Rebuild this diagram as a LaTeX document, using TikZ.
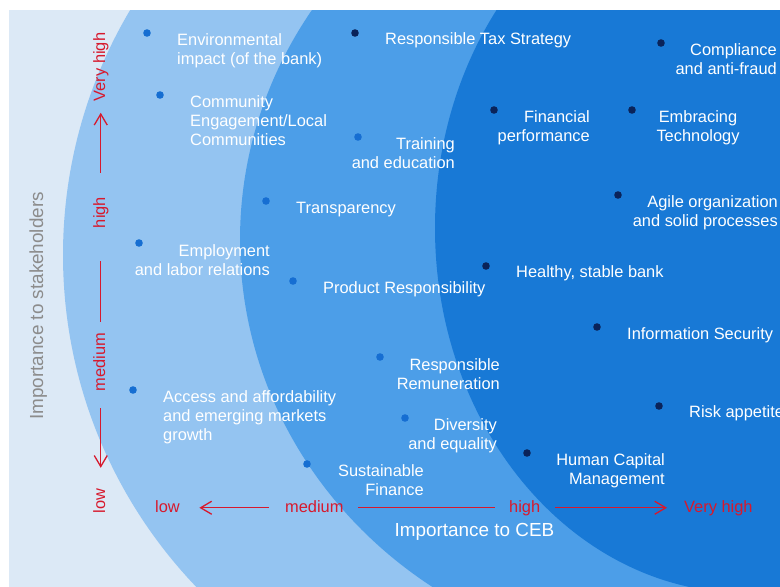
\documentclass[tikz,border=0pt]{standalone}
\usepackage{fontspec}
\setmainfont{Liberation Sans}
\usetikzlibrary{arrows.meta}
\definecolor{pale}{RGB}{220,233,246}
\definecolor{ringA}{RGB}{148,196,241}
\definecolor{ringB}{RGB}{76,158,232}
\definecolor{ringC}{RGB}{24,121,214}
\definecolor{dotblue}{RGB}{22,110,210}
\definecolor{dotnavy}{RGB}{10,35,90}
\definecolor{axisred}{RGB}{215,25,45}
\definecolor{axisgray}{RGB}{140,140,140}
\begin{document}
\begin{tikzpicture}[x=1pt,y=-1pt,
  lbl/.style={text=white, inner sep=0pt, font=\fontsize{16.4}{19}\selectfont},
  axl/.style={text=axisred, inner sep=0pt, text height=12pt, text depth=3.5pt, font=\fontsize{16.4}{19}\selectfont},
  vaxl/.style={axl, rotate=90, anchor=base},
  big/.style={inner sep=0pt, font=\fontsize{18.9}{22}\selectfont},
  dotb/.style={circle, fill=dotblue, inner sep=0pt, minimum size=7.6pt},
  dotn/.style={circle, fill=dotnavy, inner sep=0pt, minimum size=7.6pt},
  axline/.style={draw=axisred, line width=1.3pt},
  arr/.style={-{Straight Barb[length=11pt,width=13pt]}}]
\useasboundingbox (0,0) rectangle (780,587);
\fill[white] (0,0) rectangle (780,587);
\fill[pale] (9,10) rectangle (780,587);
% rings
\begin{scope}
\clip (9,10) rectangle (780,587);
\fill[ringA] (543,255) ellipse [x radius=480, y radius=480];
\fill[ringB] (681,240) ellipse [x radius=441, y radius=420];
\fill[ringC] (746,228) ellipse [x radius=311, y radius=365];
\end{scope}
% dots
\node[dotb] (d-env) at (147,33) {};
\node[dotb] (d-comm) at (160,95) {};
\node[dotn] (d-tax) at (355,33) {};
\node[dotb] (d-train) at (358,137) {};
\node[dotn] (d-compl) at (661,43) {};
\node[dotn] (d-fin) at (494,110) {};
\node[dotn] (d-embr) at (632,110) {};
\node[dotn] (d-agile) at (618,195) {};
\node[dotb] (d-transp) at (266,201) {};
\node[dotb] (d-empl) at (139,243) {};
\node[dotn] (d-health) at (486,266) {};
\node[dotb] (d-prod) at (293,281) {};
\node[dotn] (d-infosec) at (597,327) {};
\node[dotb] (d-remun) at (380,357) {};
\node[dotb] (d-access) at (133,390) {};
\node[dotn] (d-risk) at (659,406) {};
\node[dotb] (d-divers) at (405,418) {};
\node[dotn] (d-human) at (527,453) {};
\node[dotb] (d-sust) at (307,464) {};
% labels (base anchor of a multi-line node = baseline of its last line)
\node[lbl, anchor=base west, align=left] (t-env) at (177,64) {Environmental\\impact (of the bank)};
\node[lbl, anchor=base west, align=left] (t-comm) at (190,145) {Community\\Engagement/Local\\Communities};
\node[lbl, anchor=base west] (t-tax) at (385,44) {Responsible Tax Strategy};
\node[lbl, anchor=base east, align=right] (t-train) at (455,168) {Training\\and education};
\node[lbl, anchor=base east, align=right] (t-compl) at (777,74) {Compliance\\and anti-fraud};
\node[lbl, anchor=base east, align=right] (t-fin) at (590,141) {Financial\\performance};
\node[lbl, anchor=base, align=center] (t-embr) at (698,141) {Embracing\\Technology};
\node[lbl, anchor=base east, align=right] (t-agile) at (778,226) {Agile organization\\and solid processes};
\node[lbl, anchor=base west] (t-transp) at (296,213) {Transparency};
\node[lbl, anchor=base east, align=right] (t-empl) at (270,275) {Employment\\and labor relations};
\node[lbl, anchor=base west] (t-health) at (516,277) {Healthy, stable bank};
\node[lbl, anchor=base west] (t-prod) at (323,293) {Product Responsibility};
\node[lbl, anchor=base west] (t-infosec) at (627,339) {Information Security};
\node[lbl, anchor=base east, align=right] (t-remun) at (500,389) {Responsible\\Remuneration};
\node[lbl, anchor=base west, align=left] (t-access) at (163,440) {Access and affordability\\and emerging markets\\growth};
\node[lbl, anchor=base west] (t-risk) at (689,417) {Risk appetite};
\node[lbl, anchor=base east, align=right] (t-divers) at (497,449) {Diversity\\and equality};
\node[lbl, anchor=base east, align=right] (t-human) at (665,484) {Human Capital\\Management};
\node[lbl, anchor=base east, align=right] (t-sust) at (424,495) {Sustainable\\Finance};
% horizontal axis
\node[axl, anchor=base west] (hlow) at (155,512) {low};
\node[axl, anchor=base west] (hmed) at (285,512) {medium};
\node[axl, anchor=base west] (hhigh) at (509,512) {high};
\node[axl, anchor=base west] (hvhigh) at (684,512) {Very high};
\draw[axline, arr, shorten <=16pt, shorten >=19.4pt] (hmed.west) -- (hlow.east);
\draw[axline, shorten <=14.7pt, shorten >=14pt] (hmed.east) -- (hhigh.west);
\draw[axline, arr, shorten <=15pt, shorten >=17pt] (hhigh.east) -- (hvhigh.west);
\node[big, text=white, anchor=base] (xtitle) at (474.5,536) {Importance to CEB};
% vertical axis
\node[vaxl] (vvhigh) at (105,67) {Very high};
\node[vaxl] (vhigh) at (105,212.5) {high};
\node[vaxl] (vmed) at (105,362) {medium};
\node[vaxl] (vlow) at (105,501) {low};
\draw[axline, arr, shorten <=24pt, shorten >=11.4pt] (vhigh.east) -- (vvhigh.west);
\draw[axline, shorten <=33pt, shorten >=10.9pt] (vhigh.west) -- (vmed.east);
\draw[axline, arr, shorten <=16.9pt, shorten >=20.7pt] (vmed.west) -- (vlow.east);
\node[big, text=axisgray, rotate=90, anchor=base] (ytitle) at (43,306) {Importance to stakeholders};
\end{tikzpicture}
\end{document}
